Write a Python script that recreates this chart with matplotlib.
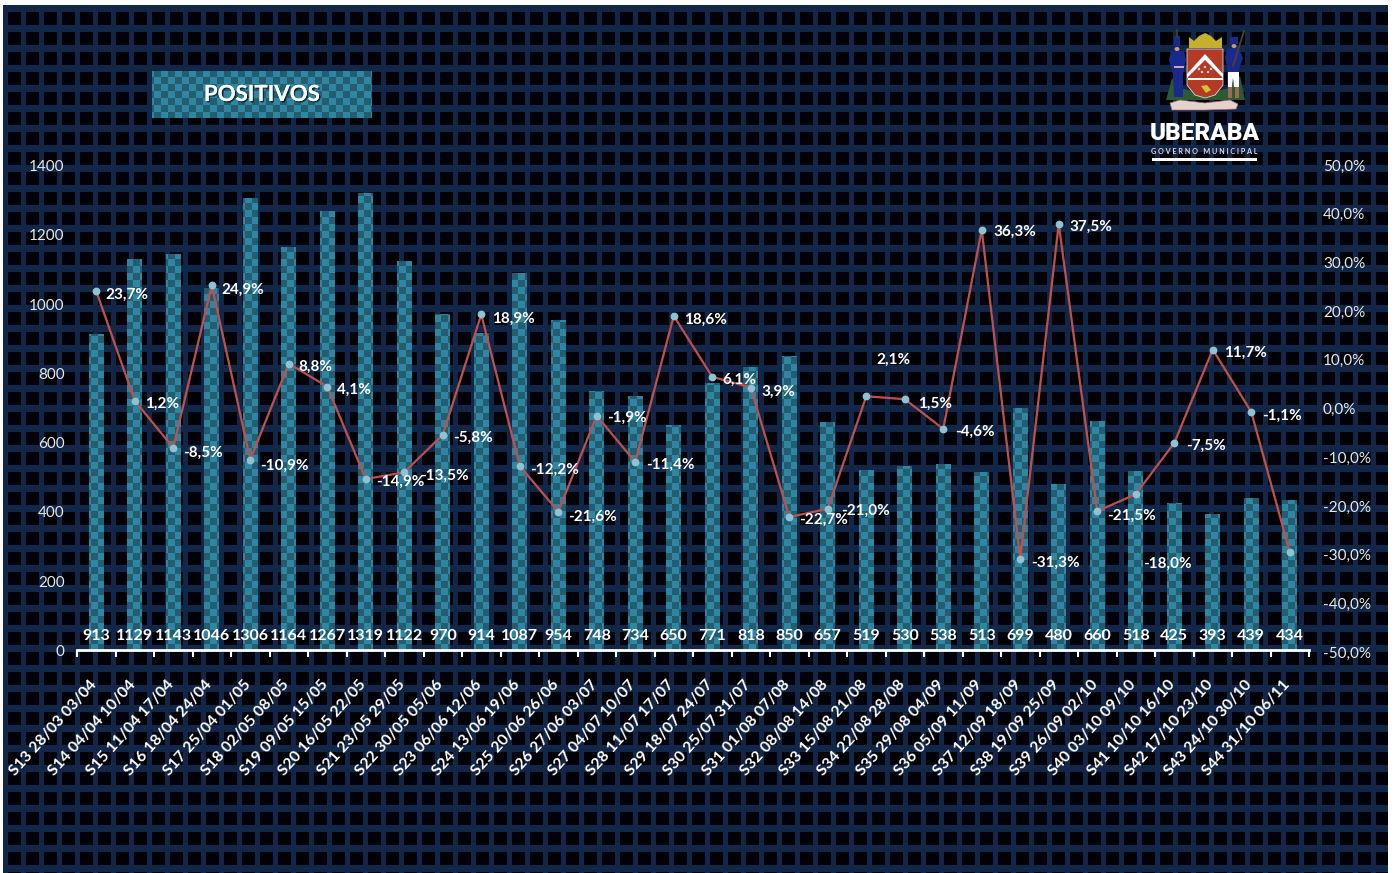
import numpy as np
import matplotlib
matplotlib.use("Agg")
import matplotlib.pyplot as plt
import matplotlib.patheffects as pe
from matplotlib.path import Path
from matplotlib.patches import PathPatch, Polygon, Rectangle, Circle, Ellipse
from matplotlib.transforms import ScaledTranslation

plt.rcParams['font.family'] = ['Lato', 'DejaVu Sans']

semanas = ["S13 28/03 03/04", "S14 04/04 10/04", "S15 11/04 17/04", "S16 18/04 24/04",
           "S17 25/04 01/05", "S18 02/05 08/05", "S19 09/05 15/05", "S20 16/05 22/05",
           "S21 23/05 29/05", "S22 30/05 05/06", "S23 06/06 12/06", "S24 13/06 19/06",
           "S25 20/06 26/06", "S26 27/06 03/07", "S27 04/07 10/07", "S28 11/07 17/07",
           "S29 18/07 24/07", "S30 25/07 31/07", "S31 01/08 07/08", "S32 08/08 14/08",
           "S33 15/08 21/08", "S34 22/08 28/08", "S35 29/08 04/09", "S36 05/09 11/09",
           "S37 12/09 18/09", "S38 19/09 25/09", "S39 26/09 02/10", "S40 03/10 09/10",
           "S41 10/10 16/10", "S42 17/10 23/10", "S43 24/10 30/10", "S44 31/10 06/11"]
positivos = [913, 1129, 1143, 1046, 1306, 1164, 1267, 1319, 1122, 970, 914, 1087, 954, 748, 734, 650,
             771, 818, 850, 657, 519, 530, 538, 513, 699, 480, 660, 518, 425, 393, 439, 434]
variacao = [23.7, 1.2, -8.5, 24.9, -10.9, 8.8, 4.1, -14.9, -13.5, -5.8, 18.9, -12.2, -21.6, -1.9, -11.4, 18.6,
            6.1, 3.9, -22.7, -21.0, 2.1, 1.5, -4.6, 36.3, -31.3, 37.5, -21.5, -18.0, -7.5, 11.7, -1.1, -29.9]
# deslocamento dos rotulos em pixels (o ultimo ponto nao tem rotulo)
desloc = [(31, -4), (27, -3), (30, -5), (31, -5), (34, -6), (27, -3), (27, -3), (35, -3),
          (40, -4), (30, -3), (32, -4), (35, -4), (34, -5), (30, -2), (35, -3), (32, -4),
          (27, -3), (28, -4), (34, -3), (38, -2), (27, 36), (30, -5), (32, -3), (33, -2),
          (35, -4), (32, -3), (34, -5), (32, -70), (32, -3), (33, -3), (31, -4)]

W, H = 1396, 873
fig = plt.figure(figsize=(W / 100, H / 100), dpi=100, facecolor="white")


def caixa(x0, y0, x1, y1):
    return [x0 / W, 1 - y1 / H, (x1 - x0) / W, (y1 - y0) / H]


def empurra(rotulos, dx, dy):
    # desloca rotulos de eixo em pixels
    for r in rotulos:
        r.set_transform(r.get_transform() + ScaledTranslation(dx / 100, dy / 100, fig.dpi_scale_trans))


# fundo: grade azul com quadrados pretos
fundo = np.zeros((H, W, 3))
fundo[:] = np.array([18, 38, 72]) / 255
xx, yy = np.meshgrid(np.arange(W), np.arange(H))
quad = ((xx - 8) % 18 < 13) & ((yy - 12) % 20 < 13)
fundo[quad] = np.array([0, 2, 8]) / 255
fundo[:5, :] = 1
fundo[:, :3] = 1
fundo[:, 1388:] = 1

# textura xadrez das barras
claro = np.array([46, 134, 162]) / 255
escuro = np.array([36, 92, 112]) / 255
textura = np.zeros((H, W, 3))
textura[:] = claro
xadrez = ((xx // 7) + (yy // 7)) % 2 == 0
textura[xadrez] = escuro

bg = fig.add_axes([0, 0, 1, 1])
bg.imshow(fundo, extent=[0, W, H, 0], aspect='auto', interpolation='nearest')
bg.axis('off')

# caixa do titulo
t = bg.imshow(textura, extent=[0, W, H, 0], aspect='auto', interpolation='nearest')
t.set_clip_path(Rectangle((152, 71), 220, 47, transform=bg.transData))
bg.set_xlim(0, W)
bg.set_ylim(H, 0)
bg.text(262, 94.5, "POSITIVOS", color="white", fontsize=16, fontweight='bold', ha='center', va='center',
        path_effects=[pe.withSimplePatchShadow(offset=(1, -1), shadow_rgbFace='black', alpha=0.6), pe.Normal()])

# brasao (desenho aproximado)
bg.add_patch(Polygon([(1166, 100), (1172, 78), (1180, 88), (1205, 94), (1230, 88), (1240, 76), (1245, 100)],
                     closed=True, fc="#2c5a34", ec="none"))
bg.add_patch(Polygon([(1189, 48), (1189, 37), (1194, 41), (1199, 36), (1205, 33), (1211, 36), (1216, 41),
                      (1222, 37), (1222, 48)], closed=True, fc="#c4b02c", ec="none"))
bg.add_patch(Polygon([(1187, 49), (1223, 49), (1223, 85), (1215, 95), (1205, 98), (1195, 95), (1187, 85)],
                     closed=True, fc="#b23a26", ec="#d8d8d8", lw=0.6))
bg.add_patch(Polygon([(1187, 74), (1205, 54), (1223, 74), (1223, 78), (1205, 60), (1187, 78)],
                     closed=True, fc="white", ec="none"))
bg.add_patch(Rectangle((1187.5, 78), 35, 2, fc="white", ec="none"))
for cx, cy in [(1199, 69), (1205, 67), (1211, 69), (1202, 72), (1208, 72)]:
    bg.add_patch(Circle((cx, cy), 1.2, fc="#d8d8d8", ec="none"))
bg.add_patch(Polygon([(1201, 86), (1207, 85), (1211, 90), (1206, 93)], closed=True, fc="#d8c030", ec="none"))
# soldado da esquerda
bg.add_patch(Polygon([(1171, 51), (1184, 51), (1186, 60), (1183, 74), (1183, 97), (1174, 97), (1173, 74), (1169, 60)],
                     closed=True, fc="#1a2a8c", ec="none"))
bg.add_patch(Rectangle((1174, 36), 6, 11, fc="#1a2a8c", ec="none"))
bg.plot([1177, 1177], [30, 37], color="#30402c", lw=1.5)
bg.add_patch(Ellipse((1177, 49), 5, 4, fc="#c89c80", ec="none"))
bg.add_patch(Rectangle((1174, 66), 10, 2, fc="#d8a0c0", ec="none"))
# soldado da direita
bg.add_patch(Polygon([(1227, 49), (1238, 47), (1243, 58), (1238, 72), (1228, 72), (1225, 58)],
                     closed=True, fc="#1a2a8c", ec="none"))
bg.add_patch(Polygon([(1228, 72), (1239, 72), (1239, 87), (1234, 87), (1233, 78), (1232, 87), (1228, 87)],
                     closed=True, fc="white", ec="none"))
bg.add_patch(Rectangle((1228, 87), 4, 11, fc="#9c6a4c", ec="none"))
bg.add_patch(Rectangle((1235, 87), 4, 11, fc="#9c6a4c", ec="none"))
bg.add_patch(Rectangle((1230, 37), 8, 7, fc="#1a2a8c", ec="none"))
bg.add_patch(Ellipse((1234, 46), 5, 4, fc="#c89c80", ec="none"))
bg.plot([1233, 1244], [66, 31], color="#5a3a2a", lw=1.3)
# faixa
bg.add_patch(Polygon([(1170, 103), (1180, 100), (1205, 103), (1230, 100), (1238, 104), (1236, 109),
                      (1205, 110), (1172, 110)], closed=True, fc="#e6d2cc", ec="#b07070", lw=0.5))
bg.text(1204.5, 133, "UBERABA", color="white", fontsize=17.5, fontweight='black', ha='center', va='center',
        family=['Roboto', 'DejaVu Sans'])
bg.text(1204.5, 151, "G O V E R N O   M U N I C I P A L", color="#d8dde6", fontsize=5.2, fontweight='bold',
        ha='center', va='center')
bg.add_patch(Rectangle((1152, 158), 105, 3, fc="white", ec="none"))

x = np.arange(len(semanas))

# barras
ax = fig.add_axes(caixa(77, 165, 1309, 650))
ax.patch.set_alpha(0)
barras = ax.bar(x, positivos, width=0.4, color='none', edgecolor='none')
caminho = Path.make_compound_path(*[b.get_path().transformed(b.get_patch_transform()) for b in barras])
im = ax.imshow(textura[165:650, 77:1309], extent=[-0.5, len(semanas) - 0.5, 0, 1400], aspect='auto',
               interpolation='nearest', zorder=1)
im.set_clip_path(PathPatch(caminho, transform=ax.transData))
ax.set_xlim(-0.5, len(semanas) - 0.5)
ax.set_ylim(0, 1400)

for i, v in enumerate(positivos):
    ax.annotate(str(v), (i, 0), xytext=(0, 14.5), textcoords='offset pixels', color="white", fontsize=11.5,
                fontweight='bold', ha='center', va='center', zorder=3)

for s in ['top', 'left', 'right']:
    ax.spines[s].set_visible(False)
ax.spines['bottom'].set_color("white")
ax.spines['bottom'].set_linewidth(2)
ax.spines['bottom'].set_zorder(4)
ax.set_yticks(np.arange(0, 1401, 200))
ax.tick_params(axis='y', length=0, pad=9, labelcolor="#e8e8e8", labelsize=11)
ax.set_xticks(x)
ax.set_xticklabels(semanas, rotation=48, ha='right', va='top', rotation_mode='anchor',
                   color="white", fontsize=11.4, fontweight='bold')
ax.tick_params(axis='x', length=0, pad=20)
ax.set_xticks(np.arange(len(semanas) + 1) - 0.5, minor=True)
ax.tick_params(axis='x', which='minor', length=5, width=1.5, color="white")
empurra(ax.get_xticklabels(), -7, 0)
empurra(ax.get_yticklabels(), 0, -0.5)

# linha de variacao
ax2 = fig.add_axes(caixa(77, 163, 1309, 650))
ax2.patch.set_alpha(0)
ax2.plot(x, variacao, color="#c0504d", lw=1.6, marker='o', ms=4.6, mfc="#8fc3d4", mec="#8fc3d4", zorder=3)
ax2.set_xlim(-0.5, len(semanas) - 0.5)
ax2.set_ylim(-50, 50)
for i, (dx, dy) in enumerate(desloc):
    rotulo = f"{variacao[i]:.1f}%".replace('.', ',')
    ax2.annotate(rotulo, (x[i], variacao[i]), xytext=(dx, dy), textcoords='offset pixels', color="white",
                 fontsize=11, fontweight='bold', ha='center', va='center', zorder=5)
for s in ['top', 'left', 'bottom', 'right']:
    ax2.spines[s].set_visible(False)
ax2.set_xticks([])
ax2.yaxis.tick_right()
ax2.set_yticks(np.arange(-50, 51, 10))
ax2.set_yticklabels([f"{v:.1f}%".replace('.', ',') for v in np.arange(-50, 51, 10)], ha='left')
ax2.tick_params(axis='y', length=0, pad=10, labelcolor="#e8e8e8", labelsize=11)
empurra(ax2.get_yticklabels(), 0, -2)

fig.savefig("out.png", dpi=100)
